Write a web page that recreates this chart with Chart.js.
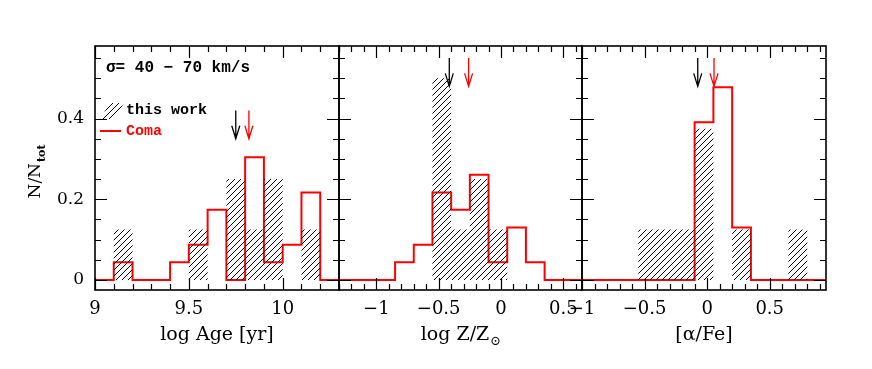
<!DOCTYPE html>
<html>
<head>
<meta charset="utf-8">
<script src="https://cdn.jsdelivr.net/npm/chart.js@4"></script>
<style>
  body { margin: 0; background: #fff; }
  #wrap { position: relative; width: 872px; height: 369px; }
  canvas { position: absolute; left: 0; top: 0; }
</style>
</head>
<body>
<div id="wrap">
  <canvas id="age" width="872" height="369"></canvas>
  <canvas id="met" width="872" height="369"></canvas>
  <canvas id="afe" width="872" height="369"></canvas>
</div>
<script>
// bin edges and fractions
const ageEdges = [9.0, 9.1, 9.2, 9.3, 9.4, 9.5, 9.6, 9.7, 9.8, 9.9, 10.0, 10.1, 10.2, 10.3];
const ageWork  = [0, 0.125, 0, 0, 0, 0.125, 0, 0.25, 0.125, 0.25, 0, 0.125, 0];
const ageComa  = [0, 0.0435, 0, 0, 0.0435, 0.087, 0.174, 0, 0.304, 0.0435, 0.087, 0.217, 0];
const ageMeans = [9.75, 9.82];      // this work, Coma

const zEdges = [-1.3, -1.15, -1.0, -0.85, -0.7, -0.55, -0.4, -0.25, -0.1, 0.05, 0.2, 0.35, 0.5, 0.65];
const zWork  = [0, 0, 0, 0, 0, 0.5, 0.125, 0.25, 0.125, 0, 0, 0, 0];
const zComa  = [0, 0, 0, 0.0435, 0.087, 0.217, 0.174, 0.261, 0.0435, 0.130, 0.0435, 0, 0];
const zMeans = [-0.415, -0.26];

const afeEdges = [-1.0, -0.85, -0.7, -0.55, -0.4, -0.25, -0.1, 0.05, 0.2, 0.35, 0.5, 0.65, 0.8, 0.95];
const afeWork  = [0, 0, 0, 0.125, 0.125, 0.125, 0.375, 0, 0.125, 0, 0, 0.125, 0];
const afeComa  = [0, 0, 0, 0, 0, 0, 0.391, 0.478, 0.130, 0, 0, 0, 0];
const afeMeans = [-0.075, 0.055];

const yTicks = [0, 0.2, 0.4];

const RED = '#ff0000';
const serif = '"DejaVu Serif", serif';
const mono = '"Liberation Mono", monospace';

function hatchFor(ctx) {
  const c = document.createElement('canvas');
  c.width = 6; c.height = 6;
  const g = c.getContext('2d');
  g.strokeStyle = '#000';
  g.lineWidth = 1;
  g.beginPath();
  g.moveTo(0, 6); g.lineTo(6, 0);
  g.moveTo(-1, 1); g.lineTo(1, -1);
  g.moveTo(5, 7); g.lineTo(7, 5);
  g.stroke();
  return ctx.createPattern(c, 'repeat');
}

// point i opens bin i; the last edge repeats the last bin
function steps(edges, vals) {
  return edges.map((e, i) => ({ x: e, y: i < vals.length ? vals[i] : vals[vals.length - 1] }));
}

function minus(v) { return String(v).replace('-', '\u2212'); }

// box, inward ticks, mean arrows and labels
const frame = {
  id: 'frame',
  afterDraw(chart, args, o) {
    const ctx = chart.ctx;
    const a = chart.chartArea;
    const xs = chart.scales.x, ys = chart.scales.y;
    ctx.save();
    ctx.strokeStyle = '#000';
    ctx.lineWidth = 1.2;
    ctx.beginPath();
    // x ticks, top and bottom
    const x0 = Math.ceil(xs.min * 10 - 1e-6);
    for (let k = x0; k / 10 <= xs.max + 1e-9; k++) {
      const v = k / 10;
      const px = Math.round(xs.getPixelForValue(v)) + 0.5;
      const len = (Math.abs(k % 5) === 0) ? 12 : 6;
      ctx.moveTo(px, a.bottom); ctx.lineTo(px, a.bottom - len);
      ctx.moveTo(px, a.top); ctx.lineTo(px, a.top + len);
    }
    // y ticks, left and right
    for (let k = 0; k / 20 <= ys.max + 1e-9; k++) {
      const py = Math.round(ys.getPixelForValue(k / 20)) + 0.5;
      const len = (k % 4 === 0) ? 12 : 6;
      ctx.moveTo(a.left, py); ctx.lineTo(a.left + len, py);
      ctx.moveTo(a.right, py); ctx.lineTo(a.right - len, py);
    }
    ctx.stroke();
    ctx.lineWidth = 1.6;
    ctx.strokeRect(a.left, a.top, a.right - a.left, a.bottom - a.top);

    // arrows at the means
    [['#000', o.means[0]], [RED, o.means[1]]].forEach(([col, m]) => {
      const px = xs.getPixelForValue(m);
      const tip = ys.getPixelForValue(o.arrowY[0]);
      const tail = ys.getPixelForValue(o.arrowY[1]);
      ctx.strokeStyle = col;
      ctx.lineWidth = 1.3;
      ctx.beginPath();
      ctx.moveTo(px, tail); ctx.lineTo(px, tip);
      ctx.moveTo(px - 4, tip - 13); ctx.lineTo(px, tip); ctx.lineTo(px + 4, tip - 13);
      ctx.stroke();
    });

    // x title
    ctx.fillStyle = '#000';
    ctx.textBaseline = 'middle';
    const cx = (a.left + a.right) / 2;
    const t = o.title;
    const sub = o.sub || '';
    ctx.font = '19px ' + serif;
    const w1 = ctx.measureText(t).width;
    ctx.font = '13px ' + serif;
    const w2 = ctx.measureText(sub).width;
    const sx = cx - (w1 + w2) / 2;
    ctx.textAlign = 'left';
    ctx.font = '19px ' + serif;
    ctx.fillText(t, sx, 335);
    if (sub) { ctx.font = '13px ' + serif; ctx.fillText(sub, sx + w1 + 1, 342); }

    if (o.first) {
      // y title
      ctx.save();
      ctx.translate(36, 172);
      ctx.rotate(-Math.PI / 2);
      ctx.font = '17px ' + serif;
      const wn = ctx.measureText('N/N').width;
      ctx.font = 'bold 11px ' + serif;
      const wt = ctx.measureText('tot').width;
      ctx.textAlign = 'left';
      ctx.font = '17px ' + serif;
      ctx.fillText('N/N', -(wn + wt) / 2, 0);
      ctx.font = 'bold 11px ' + serif;
      ctx.fillText('tot', -(wn + wt) / 2 + wn + 1, 6);
      ctx.restore();

      // annotation and legend
      ctx.textAlign = 'left';
      ctx.font = 'bold 16px ' + mono;
      ctx.fillText('\u03c3= 40 \u2212 70 km/s', 106, 68);
      ctx.fillStyle = o.pattern;
      ctx.beginPath();
      ctx.moveTo(100, 119); ctx.lineTo(110, 103); ctx.lineTo(124, 103); ctx.lineTo(114, 119);
      ctx.closePath();
      ctx.fill();
      ctx.fillStyle = '#000';
      ctx.font = 'bold 15px ' + mono;
      ctx.fillText('this work', 126, 110);
      ctx.strokeStyle = RED;
      ctx.lineWidth = 2;
      ctx.beginPath();
      ctx.moveTo(100, 131); ctx.lineTo(121, 131);
      ctx.stroke();
      ctx.fillStyle = RED;
      ctx.fillText('Coma', 126, 131);
    }
    ctx.restore();
  }
};

function panel(id, edges, work, coma, means, arrowY, left, right, tickStart, title, sub, first) {
  const ctx = document.getElementById(id).getContext('2d');
  const pattern = hatchFor(ctx);
  return new Chart(ctx, {
    type: 'line',
    data: {
      datasets: [
        {
          data: steps(edges, work),
          stepped: 'before',
          borderWidth: 0,
          borderColor: 'rgba(0,0,0,0)',
          backgroundColor: pattern,
          fill: 'origin',
          pointRadius: 0
        },
        {
          data: steps(edges, coma),
          stepped: 'before',
          borderWidth: 2,
          borderColor: RED,
          fill: false,
          pointRadius: 0
        }
      ]
    },
    options: {
      responsive: false,
      animation: false,
      devicePixelRatio: 1,
      layout: { padding: { left: first ? 0 : left, right: 872 - right, top: 46, bottom: 0 } },
      plugins: {
        legend: { display: false },
        tooltip: { enabled: false },
        frame: { means: means, arrowY: arrowY, title: title, sub: sub, first: first, pattern: pattern }
      },
      scales: {
        x: {
          type: 'linear',
          min: edges[0],
          max: edges[edges.length - 1],
          grid: { display: false, drawTicks: false },
          border: { display: false },
          afterFit: s => { s.height = 79; },
          afterBuildTicks: s => { s.ticks = tickStart.map(v => ({ value: v })); },
          ticks: {
            padding: 9,
            color: '#000',
            font: { family: serif, size: 18 },
            maxRotation: 0,
            autoSkip: false,
            callback: v => minus(v)
          }
        },
        y: {
          min: -0.025,
          max: 0.58,
          display: first,
          grid: { display: false, drawTicks: false },
          border: { display: false },
          afterFit: s => { if (first) s.width = left; },
          afterBuildTicks: s => { s.ticks = yTicks.map(v => ({ value: v })); },
          ticks: {
            padding: 11,
            color: '#000',
            font: { family: serif, size: 17 },
            callback: v => String(v)
          }
        }
      }
    },
    plugins: [frame]
  });
}

panel('age', ageEdges, ageWork, ageComa, ageMeans, [0.35, 0.42], 95, 339, [9, 9.5, 10], 'log Age [yr]', '', true);
panel('met', zEdges, zWork, zComa, zMeans, [0.48, 0.55], 339, 582, [-1, -0.5, 0, 0.5], 'log Z/Z', '\u2299', false);
panel('afe', afeEdges, afeWork, afeComa, afeMeans, [0.48, 0.55], 582, 826, [-1, -0.5, 0, 0.5], '[\u03b1/Fe]', '', false);
</script>
</body>
</html>
